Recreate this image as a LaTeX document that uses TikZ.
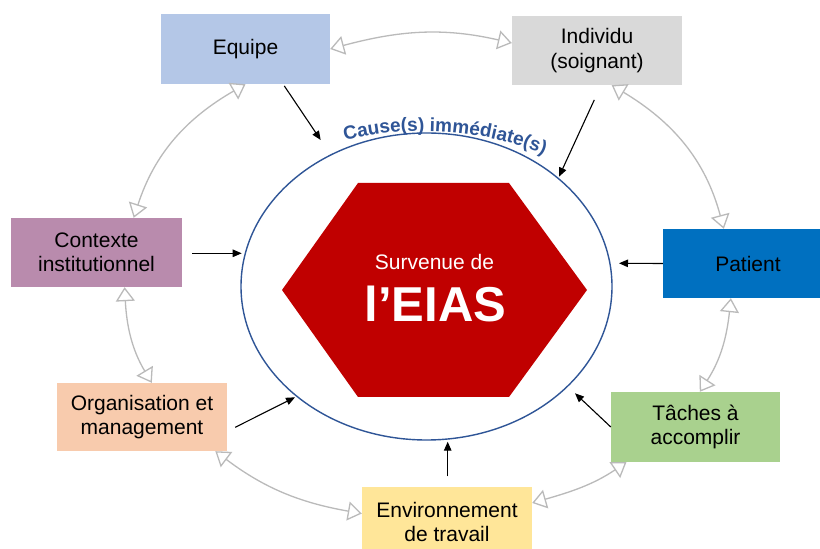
\documentclass[tikz,border=0pt]{standalone}
\usepackage{fontspec}
\setmainfont{Liberation Sans}
\usetikzlibrary{arrows.meta, shapes.geometric, decorations.text, calc}
\definecolor{eqc}{HTML}{B4C7E7}
\definecolor{indc}{HTML}{D9D9D9}
\definecolor{ctxc}{HTML}{B98BAD}
\definecolor{patc}{HTML}{0070C0}
\definecolor{orgc}{HTML}{F8CBAD}
\definecolor{tacc}{HTML}{A9D18E}
\definecolor{envc}{HTML}{FFE699}
\definecolor{eiasred}{HTML}{C00000}
\definecolor{causeblue}{HTML}{2F5597}
\definecolor{linkgray}{HTML}{BABABA}
\begin{document}
\begin{tikzpicture}[x=1pt, y=1pt,
  box/.style={rectangle, inner sep=0pt, align=center, font=\fontsize{21}{24.5}\selectfont, text=black},
  gtip/.tip={Triangle[open, length=14pt, width=19pt, line width=1.3pt]},
  link/.style={draw=linkgray, line width=1.3pt, gtip-gtip},
  cause/.style={draw=black, line width=1.1pt, -{Triangle[length=9pt, width=7.5pt]}},
]
\fill[white] (0,0) rectangle (820,549);
\useasboundingbox (0,0) rectangle (820,549);

% boxes
\node[box, fill=eqc, minimum width=169pt, minimum height=70pt] (equipe) at (245.5,500) {Equipe};
\node[box, fill=indc, minimum width=170pt, minimum height=69pt] (ind) at (597,498.5) {Individu\\(soignant)};
\node[box, fill=ctxc, minimum width=171pt, minimum height=69pt] (ctx) at (96.5,296.5) {Contexte\\institutionnel};
\node[box, fill=patc, minimum width=157pt, minimum height=69pt] (pat) at (741.5,285.5) {\hspace*{13pt}Patient};
\node[box, fill=orgc, minimum width=170pt, minimum height=68pt] (org) at (142,132) {Organisation et\\management};
\node[box, fill=tacc, minimum width=169pt, minimum height=70pt] (tac) at (695.5,122) {Tâches à\\accomplir};
\node[box, fill=envc, minimum width=170pt, minimum height=62pt] (envbox) at (447,31) {};
\node[box] (env) at (447,27) {Environnement\\de travail};

% gray links
\draw[link] (equipe.east) to[out=15, in=167] (ind.175);
\draw[link] (ind.-67) to[out=-31, in=105] (pat.117);
\draw[link] (pat.-107) to[out=-96, in=57] (tac.83);
\draw[link] (tac.-153) to[out=-146, in=16] (envbox.10);
\draw[link] (envbox.177) to[out=170, in=-37] (org.-25);
\draw[link] (org.74) to[out=121, in=-87] (ctx.-51);
\draw[link] (ctx.43) to[out=72, in=-150] (equipe.south);

% central ellipse
\node[draw=causeblue, line width=1.4pt, ellipse, minimum width=371pt, minimum height=307pt, inner sep=0pt] (ell) at (426.5,262.5) {};

% hexagon
\fill[eiasred] (282,259) -- (358,366) -- (509,366) -- (587,259) -- (509,152) -- (358,152) -- cycle;
\node[anchor=base, text=white, font=\fontsize{21}{25}\selectfont, inner sep=0pt] (surv) at (434.5,279.7) {Survenue de};
\node[anchor=base, text=white, font=\fontsize{49}{55}\selectfont\bfseries, inner sep=0pt] (eias) at (435.3,227.3) {l’EIAS};

% curved label
\coordinate (arcC) at (423,96);
\path[decorate, decoration={text along path, text align=center,
  text={|\fontsize{19}{19}\selectfont\bfseries\color{causeblue}|Cause(s) immédiate(s)}}]
  ($(arcC)+(106:322pt)$) arc[start angle=106, end angle=66, radius=322pt];

% cause arrows
\coordinate (tEq) at (320.7,409);
\coordinate (tInd) at (559,372.3);
\coordinate (tCtx) at (241.7,295.7);
\coordinate (tPat) at (619,285.7);
\coordinate (tOrg) at (295,151.7);
\coordinate (tTac) at (575,155.7);
\coordinate (tEnv) at (447.7,107.3);
\draw[cause] ($(equipe.south)+(38.8,-1.7)$) -- (tEq);
\draw[cause] ($(ind.south)+(-2.7,-14.7)$) -- (tInd);
\draw[cause] ($(ctx.east)+(10,-0.8)$) -- (tCtx);
\draw[cause] (pat.west) -- (tPat);
\draw[cause] ($(org.east)+(8,-10.3)$) -- (tOrg);
\draw[cause] (tac.west) -- (tTac);
\draw[cause] ($(envbox.north)+(0.7,10.3)$) -- (tEnv);
\end{tikzpicture}
\end{document}
